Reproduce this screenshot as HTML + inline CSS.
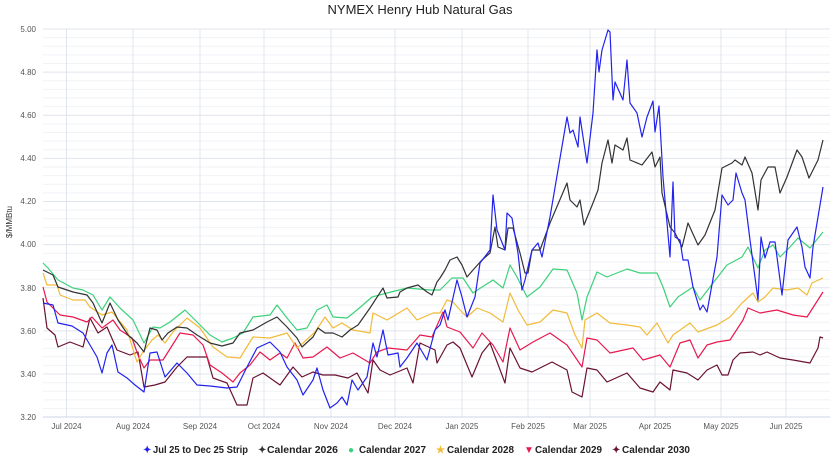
<!DOCTYPE html>
<html><head><meta charset="utf-8"><style>
html,body{margin:0;padding:0;background:#fff;}
svg{display:block;font-family:"Liberation Sans",sans-serif;}
</style></head><body>
<svg width="833" height="462" viewBox="0 0 833 462">
<text x="420" y="14" text-anchor="middle" font-size="13" fill="#222">NYMEX Henry Hub Natural Gas</text>
<g stroke="#f0f2f6" stroke-width="1">
<line x1="43" x2="830" y1="37.6" y2="37.6"/><line x1="43" x2="830" y1="46.2" y2="46.2"/><line x1="43" x2="830" y1="54.9" y2="54.9"/><line x1="43" x2="830" y1="63.5" y2="63.5"/>
<line x1="43" x2="830" y1="80.7" y2="80.7"/><line x1="43" x2="830" y1="89.4" y2="89.4"/><line x1="43" x2="830" y1="98" y2="98"/><line x1="43" x2="830" y1="106.6" y2="106.6"/>
<line x1="43" x2="830" y1="123.9" y2="123.9"/><line x1="43" x2="830" y1="132.5" y2="132.5"/><line x1="43" x2="830" y1="141.1" y2="141.1"/><line x1="43" x2="830" y1="149.8" y2="149.8"/>
<line x1="43" x2="830" y1="167" y2="167"/><line x1="43" x2="830" y1="175.6" y2="175.6"/><line x1="43" x2="830" y1="184.3" y2="184.3"/><line x1="43" x2="830" y1="192.9" y2="192.9"/>
<line x1="43" x2="830" y1="210.1" y2="210.1"/><line x1="43" x2="830" y1="218.8" y2="218.8"/><line x1="43" x2="830" y1="227.4" y2="227.4"/><line x1="43" x2="830" y1="236" y2="236"/>
<line x1="43" x2="830" y1="253.3" y2="253.3"/><line x1="43" x2="830" y1="261.9" y2="261.9"/><line x1="43" x2="830" y1="270.5" y2="270.5"/><line x1="43" x2="830" y1="279.2" y2="279.2"/>
<line x1="43" x2="830" y1="296.4" y2="296.4"/><line x1="43" x2="830" y1="305" y2="305"/><line x1="43" x2="830" y1="313.7" y2="313.7"/><line x1="43" x2="830" y1="322.3" y2="322.3"/>
<line x1="43" x2="830" y1="339.5" y2="339.5"/><line x1="43" x2="830" y1="348.2" y2="348.2"/><line x1="43" x2="830" y1="356.8" y2="356.8"/><line x1="43" x2="830" y1="365.4" y2="365.4"/>
<line x1="43" x2="830" y1="382.7" y2="382.7"/><line x1="43" x2="830" y1="391.3" y2="391.3"/><line x1="43" x2="830" y1="399.9" y2="399.9"/><line x1="43" x2="830" y1="408.6" y2="408.6"/>
</g>
<g stroke="#e0e4ec" stroke-width="1">
<line x1="43" x2="830" y1="29" y2="29"/><line x1="43" x2="830" y1="72.1" y2="72.1"/><line x1="43" x2="830" y1="115.2" y2="115.2"/><line x1="43" x2="830" y1="158.4" y2="158.4"/><line x1="43" x2="830" y1="201.5" y2="201.5"/><line x1="43" x2="830" y1="244.6" y2="244.6"/><line x1="43" x2="830" y1="287.8" y2="287.8"/><line x1="43" x2="830" y1="330.9" y2="330.9"/><line x1="43" x2="830" y1="374" y2="374"/>
<line x1="66.5" x2="66.5" y1="29" y2="417"/><line x1="133" x2="133" y1="29" y2="417"/><line x1="200" x2="200" y1="29" y2="417"/><line x1="264" x2="264" y1="29" y2="417"/><line x1="331" x2="331" y1="29" y2="417"/><line x1="395" x2="395" y1="29" y2="417"/><line x1="462" x2="462" y1="29" y2="417"/><line x1="528" x2="528" y1="29" y2="417"/><line x1="590" x2="590" y1="29" y2="417"/><line x1="655" x2="655" y1="29" y2="417"/><line x1="721" x2="721" y1="29" y2="417"/><line x1="786" x2="786" y1="29" y2="417"/>
</g>
<line x1="43" x2="830" y1="417" y2="417" stroke="#ccd6eb"/>
<g font-size="8" fill="#555" text-anchor="end">
<text x="36" y="32">5.00</text><text x="36" y="75">4.80</text><text x="36" y="118">4.60</text><text x="36" y="161">4.40</text><text x="36" y="204">4.20</text><text x="36" y="247">4.00</text><text x="36" y="291">3.80</text><text x="36" y="334">3.60</text><text x="36" y="377">3.40</text><text x="36" y="420">3.20</text>
</g>
<text transform="translate(12,222) rotate(-90)" text-anchor="middle" font-size="8" fill="#333">$/MMBtu</text>
<g font-size="8" fill="#555" text-anchor="middle">
<text x="66.5" y="429">Jul 2024</text><text x="133" y="429">Aug 2024</text><text x="200" y="429">Sep 2024</text><text x="264" y="429">Oct 2024</text><text x="331" y="429">Nov 2024</text><text x="395" y="429">Dec 2024</text><text x="462" y="429">Jan 2025</text><text x="528" y="429">Feb 2025</text><text x="590" y="429">Mar 2025</text><text x="655" y="429">Apr 2025</text><text x="721" y="429">May 2025</text><text x="786" y="429">Jun 2025</text>
</g>
<g fill="none" stroke-width="1.2" stroke-linejoin="round">
<polyline stroke="#6b1230" points="43,298 47,328 55,335 58,347 70,342 83,347 90,318 98,333 107,327 117,350 130,355 138,352 144,387 155,385 165,382 177,367 187,357 207,357 213,378 227,383 237,405 247,405 253,378 263,373 280,385 293,367 302,377 313,372 323,375 335,375 348,378 357,373 368,393 373,360 380,370 390,375 407,368 413,383 420,343 435,350 437,363 447,345 453,342 460,348 472,377 482,353 490,343 505,383 510,348 520,368 532,372 552,362 567,370 572,392 582,397 587,368 597,370 607,382 627,373 640,388 653,392 660,382 670,390 673,370 687,373 698,380 707,370 717,365 722,375 728,375 733,360 740,353 753,352 760,355 767,352 780,358 793,360 810,363 818,348 820,337 823,338"/>
<polyline stroke="#e8194f" points="43,287 47,302 53,308 60,315 73,317 87,322 92,317 102,328 113,320 120,330 132,338 138,355 144,368 150,360 163,360 180,333 193,335 203,345 210,365 222,373 233,382 240,373 250,365 260,352 270,360 280,353 287,358 295,343 303,358 313,357 327,347 340,358 353,353 370,363 377,352 388,348 407,350 420,335 432,337 443,312 447,327 460,332 473,348 482,333 493,345 503,362 510,328 520,350 533,342 550,333 567,345 582,367 587,338 597,340 610,353 633,348 643,360 660,355 670,367 680,343 690,340 698,358 707,345 717,342 730,340 743,320 748,308 760,313 777,310 793,315 807,317 823,292"/>
<polyline stroke="#f2bb3a" points="43,273 47,285 57,285 60,295 73,300 85,300 90,307 102,315 112,312 127,330 137,362 143,352 152,340 158,335 165,343 173,332 187,318 200,328 213,347 227,357 240,358 253,337 270,338 287,333 297,348 303,343 315,332 325,317 333,328 342,323 353,330 370,333 373,313 387,320 407,308 417,320 433,313 440,313 447,300 453,302 460,310 467,317 477,308 490,313 503,322 510,293 518,310 527,325 540,322 553,310 567,313 575,335 582,348 585,320 597,313 610,323 627,325 640,327 647,335 657,323 668,343 673,335 690,323 698,332 717,325 730,317 742,303 753,293 758,302 765,297 773,288 787,290 798,288 807,295 812,283 823,278"/>
<polyline stroke="#3dd17a" points="43,263 48,268 58,280 73,288 83,290 93,295 102,310 110,297 120,308 133,320 144,343 153,327 160,328 170,322 185,310 197,322 210,335 222,342 233,338 243,333 253,317 270,315 277,305 287,318 297,330 307,328 317,310 327,305 333,317 347,318 357,310 372,297 387,293 407,288 430,290 440,290 452,278 463,278 473,293 482,287 493,280 503,288 510,265 517,277 527,297 540,287 553,269 567,270 577,293 582,320 587,297 597,272 607,277 627,269 640,273 657,273 663,287 670,307 678,297 693,287 700,300 713,283 727,265 742,257 748,247 758,268 765,250 773,245 780,257 790,247 798,238 810,248 823,232"/>
<polyline stroke="#333" points="43,270 53,275 58,287 73,292 87,295 93,303 102,323 110,303 118,320 128,335 137,343 144,352 150,328 157,330 162,340 168,333 177,327 187,328 197,335 210,343 222,346 233,343 240,333 253,330 267,322 277,317 287,327 297,338 302,347 313,337 318,328 325,333 333,333 342,337 350,330 358,325 370,308 383,288 387,298 398,297 400,292 407,288 418,285 427,292 432,295 437,282 440,278 445,270 450,260 457,257 462,265 467,277 473,270 482,260 490,253 495,227 498,247 505,250 508,228 513,228 520,253 525,273 528,273 532,250 540,250 550,223 567,183 570,200 577,207 580,200 584,225 593,203 598,190 602,163 608,140 612,163 615,145 623,150 627,138 630,160 642,165 652,152 655,167 660,157 662,193 670,227 675,233 682,247 688,223 698,245 705,235 715,210 722,168 732,163 735,160 742,165 745,157 752,173 758,210 761,180 768,167 775,167 780,193 787,177 797,150 802,157 809,178 818,160 823,140"/>
<polyline stroke="#2222f0" points="43,303 53,305 58,323 72,326 83,333 90,345 97,357 102,373 107,353 112,345 118,372 127,378 135,385 144,392 150,353 157,352 165,377 177,363 187,373 197,385 210,386 227,388 237,387 247,367 257,348 270,342 280,352 287,367 297,380 303,395 313,380 317,368 323,390 330,408 337,403 342,397 347,405 352,380 358,390 367,377 373,343 377,357 383,330 388,355 398,353 400,367 407,358 417,343 427,360 435,330 440,325 445,310 448,320 457,280 462,297 467,317 475,297 480,263 490,250 493,195 497,230 505,250 507,213 512,218 518,253 522,290 525,280 532,250 538,243 542,257 550,217 567,117 570,133 573,130 578,147 580,117 587,163 593,113 597,50 599,72 602,50 608,30 610,32 613,100 615,82 623,100 627,60 630,103 637,113 642,137 647,117 653,101 655,132 659,106 663,177 670,257 673,182 675,237 680,240 683,260 688,260 693,287 700,310 703,305 707,312 717,257 722,195 728,205 733,200 736,173 742,193 745,200 750,240 758,300 761,237 765,258 770,242 775,242 782,295 788,240 797,227 802,247 805,267 810,278 813,247 823,187"/>
</g>
<g font-size="10" font-weight="bold" fill="#222">
<text x="143" y="453" fill="#2222f0">✦</text><text x="153" y="453" textLength="95" lengthAdjust="spacingAndGlyphs">Jul 25 to Dec 25 Strip</text>
<text x="258" y="453" fill="#333">✦</text><text x="267" y="453" textLength="71" lengthAdjust="spacingAndGlyphs">Calendar 2026</text>
<text x="348" y="453" fill="#3dd17a">●</text><text x="359" y="453" textLength="67" lengthAdjust="spacingAndGlyphs">Calendar 2027</text>
<text x="436" y="453" fill="#f2bb3a">★</text><text x="447" y="453" textLength="67" lengthAdjust="spacingAndGlyphs">Calendar 2028</text>
<text x="524" y="453" fill="#e8194f">▼</text><text x="535" y="453" textLength="67" lengthAdjust="spacingAndGlyphs">Calendar 2029</text>
<text x="612" y="453" fill="#6b1230">✦</text><text x="622" y="453" textLength="68" lengthAdjust="spacingAndGlyphs">Calendar 2030</text>
</g>
</svg>
</body></html>
